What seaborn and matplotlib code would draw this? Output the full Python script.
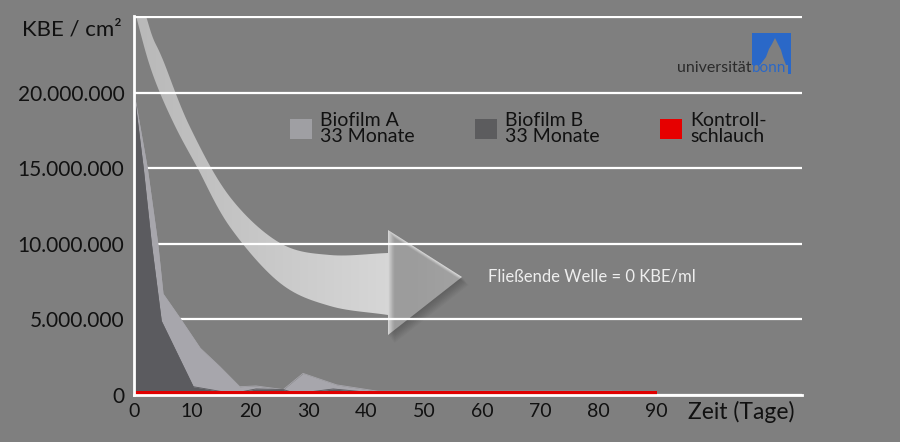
import numpy as np
import matplotlib
matplotlib.use("Agg")
import matplotlib.pyplot as plt
from matplotlib.patches import Patch, Polygon, Rectangle
from matplotlib.colors import LinearSegmentedColormap
from matplotlib.ticker import FuncFormatter
import seaborn as sns

# Biofilm A, 33 Monate (KBE / cm2 over Tage)
tage_a = [0, 2.3, 4.1, 5.0, 7.9, 11.4, 14.8, 18.2, 21.0, 25.7, 29.1, 34.9, 42.0, 84.0]
kbe_a = [20.0e6, 15.0e6, 10.0e6, 6.7e6, 5.1e6, 3.1e6, 1.87e6, 0.55e6, 0.6e6,
         0.36e6, 1.43e6, 0.67e6, 0.25e6, 0.25e6]

# Biofilm B, 33 Monate
tage_b = [0, 1.6, 3.0, 4.7, 10.2, 17.0, 21.0, 25.7, 28.0, 34.3, 42.0]
kbe_b = [20.0e6, 15.0e6, 10.0e6, 4.9e6, 0.55e6, 0.1e6, 0.4e6, 0.36e6, 0.1e6, 0.4e6, 0.12e6]

# Kontrollschlauch
tage_k = [0, 90]
kbe_k = [0.27e6, 0.27e6]

x_ticks = [0, 10, 20, 30, 40, 50, 60, 70, 80, 90]
y_ticks = [0, 5e6, 10e6, 15e6, 20e6, 25e6]
legend_labels = ["Biofilm A\n33 Monate", "Biofilm B\n33 Monate", "Kontroll-\nschlauch"]

BG = "#7f7f7f"
COL_A = "#a7a6ac"
COL_B = "#5b5b5f"
COL_K = "#e00000"
TXT = "#111111"

sns.set_theme(style="white")
plt.rcParams["font.family"] = ["Lato", "DejaVu Sans"]

fig = plt.figure(figsize=(9, 4.42), dpi=100, facecolor=BG)

# background layer in pixel coordinates (decorative arrow + logo)
bg = fig.add_axes([0, 0, 1, 1], zorder=0)
bg.set_facecolor("none")
bg.axis("off")


def catmull(pts, n=14):
    p = np.asarray(pts, float)
    p = np.vstack([2 * p[0] - p[1], p, 2 * p[-1] - p[-2]])
    out = []
    t = np.linspace(0, 1, n, endpoint=False)[:, None]
    for i in range(1, len(p) - 2):
        p0, p1, p2, p3 = p[i - 1], p[i], p[i + 1], p[i + 2]
        out.append(0.5 * (2 * p1 + (-p0 + p2) * t + (2 * p0 - 5 * p1 + 4 * p2 - p3) * t ** 2
                          + (-p0 + 3 * p1 - 3 * p2 + p3) * t ** 3))
    out.append(p[-2][None])
    return np.vstack(out)


outer = catmull([(136, 16), (148, 60), (160, 93), (177, 130), (197, 167), (230, 227),
                 (280, 283), (330, 306), (388, 315)])
inner = catmull([(146, 16), (153, 38), (163, 60), (190, 127), (230, 197), (280, 243),
                 (330, 255), (388, 253)])
head = np.array([(388, 335), (462, 277), (388, 230)])
arrow = np.vstack([outer, head, inner[::-1]])

# soft shadow under the arrow head
for k in range(1, 9):
    bg.add_patch(Polygon(head + [k * 0.8, k * 1.0], closed=True, facecolor="#333333",
                         edgecolor="none", alpha=0.05))
arrow_patch = Polygon(arrow, closed=True, facecolor="none", edgecolor="none")
bg.add_patch(arrow_patch)
grad = np.linspace(0, 1, 256)[None, :]
cmap = LinearSegmentedColormap.from_list("arr", ["#b8b8b8", "#cccccc", "#e0e0e0"])
im = bg.imshow(grad, extent=[130, 470, 345, 10], cmap=cmap, aspect="auto")
im.set_clip_path(arrow_patch)

# logo
BLUE = "#2a68c8"
bg.add_patch(Rectangle((752, 33), 39, 32, facecolor=BLUE, edgecolor="none"))
bg.add_patch(Rectangle((787.5, 33), 3.5, 41, facecolor=BLUE, edgecolor="none"))
bg.add_patch(Polygon([(760, 65), (766, 57), (769, 49), (772, 44), (775, 38), (778, 44),
                      (781, 50), (783, 57), (786, 65)], closed=True, facecolor=BG,
                     edgecolor="none"))
bg.text(752, 68.5, "universität", ha="right", va="center", fontsize=11.5, color="#2b2b2b")
bg.text(752, 68.5, "bonn", ha="left", va="center", fontsize=11, color=BLUE)

bg.set_xlim(0, 900)
bg.set_ylim(442, 0)

# main chart
ax = fig.add_axes([134 / 900, 47 / 442, 668 / 900, 379.5 / 442], zorder=1)
ax.set_facecolor("none")

sns.lineplot(x=tage_a, y=kbe_a, color=COL_A, lw=0.6, ax=ax, zorder=1)
ax.fill_between(tage_a, kbe_a, color=COL_A, lw=0, zorder=1)
sns.lineplot(x=tage_b, y=kbe_b, color=COL_B, lw=0.6, ax=ax, zorder=1.1)
ax.fill_between(tage_b, kbe_b, color=COL_B, lw=0, zorder=1.1)
ax.fill_between(tage_k, kbe_k, color=COL_K, lw=0, zorder=1.2)

ax.set_xlim(0, 115)
ax.set_ylim(0, 25.1e6)
ax.set_xticks(x_ticks)
ax.set_yticks(y_ticks)
ax.yaxis.set_major_formatter(FuncFormatter(
    lambda v, p: "" if v > 20e6 else f"{v:,.0f}".replace(",", ".")))
ax.tick_params(axis="y", length=0, pad=7, labelsize=15, labelcolor=TXT)
ax.tick_params(axis="x", length=0, pad=6, labelsize=14, labelcolor=TXT)

ax.set_axisbelow(True)
ax.yaxis.grid(True, color="white", lw=1.6)
ax.xaxis.grid(False)
for s in ["top", "right"]:
    ax.spines[s].set_visible(False)
for s in ["left", "bottom"]:
    ax.spines[s].set_color("white")
    ax.spines[s].set_linewidth(2)
ax.set_xlabel("")
ax.set_ylabel("")

handles = [Patch(facecolor=c, edgecolor="none") for c in ["#9f9fa3", "#5c5c5e", "#e60000"]]
leg = ax.legend(handles, legend_labels, ncol=3, frameon=False, loc="upper left",
                bbox_to_anchor=(290 / 900, 1 - 112 / 442), bbox_transform=fig.transFigure,
                fontsize=14, handlelength=1.13, handleheight=1.2, handletextpad=0.42,
                columnspacing=3.1, borderpad=0, borderaxespad=0)
for t in leg.get_texts():
    t.set_color(TXT)
    t.set_linespacing(0.9)

fig.text(122 / 900, 1 - 30 / 442, "KBE / cm²", ha="right", va="center",
         fontsize=16, color=TXT)
fig.text(688 / 900, 1 - 412 / 442, "Zeit (Tage)", ha="left", va="center",
         fontsize=16.5, color=TXT)
fig.text(488 / 900, 1 - 276 / 442, "Fließende Welle = 0 KBE/ml", ha="left", va="center",
         fontsize=12, color="#eeeeee")

fig.savefig("out.png", dpi=100, facecolor=BG)
